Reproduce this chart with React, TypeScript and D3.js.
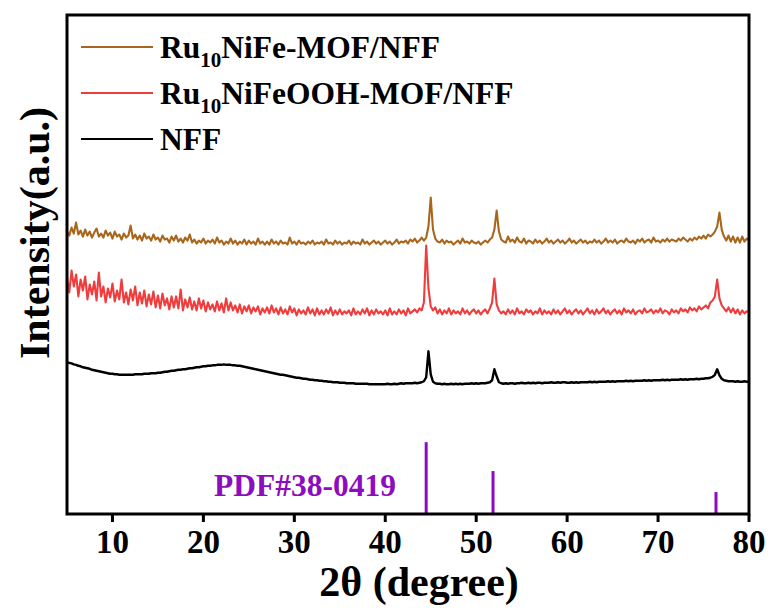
import React from "react";
import * as d3 from "d3";

// 2θ sampling grid (degrees), 0.25° step from 5 to 80
const twoTheta: number[] = d3.range(0, 301).map((i) => 5 + i * 0.25);

// Ru10NiFe-MOF/NFF (a.u.)
const ruNiFeMOF: number[] = [
  283, 279, 287, 281,
  292, 280, 284, 278,
  285, 279, 283, 277,
  282, 286, 278, 281,
  277, 284, 279, 282,
  276, 283, 278, 280,
  275, 281, 277, 279,
  289, 276, 280, 275,
  279, 274, 281, 276,
  278, 274, 280, 275,
  277, 273, 279, 275,
  276, 272, 278, 274,
  279, 273, 276, 272,
  277, 274, 280, 272,
  275, 271, 274, 272,
  276, 271, 274, 272,
  275, 271, 277, 272,
  274, 270, 273, 271,
  276, 271, 274, 270,
  273, 271, 275, 270,
  274, 271, 273, 270,
  276, 271, 273, 270,
  273, 270, 275, 271,
  273, 270, 274, 271,
  272, 270, 277, 271,
  273, 270, 274, 271,
  272, 270, 273, 271,
  274, 270, 272, 271,
  273, 270, 275, 271,
  272, 270, 274, 271,
  273, 270, 272, 271,
  274, 270, 273, 271,
  272, 270, 275, 271,
  273, 270, 272, 274,
  271, 273, 270, 272,
  274, 271, 273, 270,
  272, 275, 271, 273,
  272, 274, 271, 275,
  273, 276, 272, 274,
  277, 274, 277, 288,
  317, 285, 276, 273,
  272, 275, 271, 274,
  272, 273, 270, 272,
  274, 271, 276, 272,
  273, 271, 274, 272,
  271, 273, 270, 272,
  274, 272, 275, 277,
  285, 304, 283, 275,
  273, 272, 278, 273,
  275, 272, 277, 273,
  272, 276, 271, 274,
  273, 271, 275, 272,
  274, 271, 273, 276,
  272, 274, 271, 273,
  275, 272, 274, 271,
  273, 276, 272, 274,
  271, 273, 275, 272,
  274, 271, 273, 272,
  275, 272, 274, 271,
  273, 276, 272, 274,
  272, 275, 271, 273,
  274, 272, 276, 273,
  272, 274, 271, 275,
  273, 276, 272, 274,
  275, 272, 277, 273,
  274, 272, 275, 273,
  276, 273, 275, 274,
  273, 276, 274, 277,
  275, 273, 276, 274,
  277, 275, 278, 276,
  279, 276, 280, 278,
  280, 283, 288, 302,
  285, 278, 274, 279,
  273, 278, 272, 277,
  272, 278, 273, 276,
  274,
];

// Ru10NiFeOOH-MOF/NFF (a.u.)
const ruNiFeOOH: number[] = [
  236, 222, 244, 228,
  240, 218, 235, 224,
  238, 215, 230, 220,
  233, 214, 242, 218,
  228, 212, 226, 217,
  231, 213, 224, 215,
  235, 212, 222, 210,
  225, 214, 228, 209,
  222, 211, 224, 208,
  220, 210, 223, 207,
  219, 206, 221, 209,
  216, 205, 218, 207,
  218, 206, 225, 204,
  215, 207, 217, 205,
  213, 204, 216, 206,
  214, 203, 212, 205,
  210, 203, 213, 204,
  211, 202, 216, 204,
  212, 204, 209, 202,
  210, 201, 208, 203,
  209, 201, 207, 203,
  208, 200, 206, 202,
  207, 201, 209, 202,
  206, 200, 207, 201,
  205, 200, 208, 202,
  206, 199, 205, 201,
  204, 200, 207, 201,
  205, 199, 206, 200,
  204, 200, 205, 201,
  207, 199, 204, 200,
  205, 200, 203, 201,
  204, 199, 206, 200,
  203, 200, 205, 201,
  206, 199, 204, 200,
  205, 201, 203, 200,
  204, 199, 206, 200,
  203, 200, 205, 201,
  204, 199, 206, 201,
  203, 205, 202, 206,
  204, 212, 269, 226,
  208, 204, 207, 201,
  205, 200, 204, 201,
  206, 200, 204, 201,
  203, 200, 206, 201,
  204, 200, 203, 205,
  201, 204, 200, 203,
  205, 201, 206, 212,
  236, 210, 204, 201,
  203, 200, 205, 201,
  204, 200, 206, 201,
  203, 200, 205, 202,
  204, 200, 203, 201,
  206, 200, 204, 201,
  203, 200, 205, 201,
  204, 200, 203, 206,
  201, 204, 200, 203,
  205, 201, 204, 200,
  203, 206, 201, 204,
  200, 205, 201, 203,
  206, 201, 204, 200,
  203, 205, 201, 204,
  200, 206, 202, 204,
  201, 205, 200, 203,
  204, 201, 206, 202,
  203, 205, 201, 204,
  202, 206, 201, 204,
  203, 200, 205, 202,
  204, 201, 206, 203,
  205, 202, 207, 204,
  206, 203, 208, 205,
  207, 209, 206, 212,
  214, 218, 235, 216,
  209, 206, 203, 207,
  202, 206, 201, 205,
  200, 204, 201, 203,
  202,
];

// NFF (a.u.)
const nff: number[] = [
  152, 151.5, 151, 150,
  149.5, 148.5, 148, 147,
  146.5, 146, 145.5, 144.5,
  144, 143.5, 143, 142.5,
  142, 141.5, 141, 140.5,
  140.5, 140, 140, 139.5,
  139.5, 139.5, 139.5, 139.5,
  139.5, 139.5, 140, 140,
  140, 140, 140.5, 140.5,
  140.5, 141, 141, 141,
  141.5, 141.5, 142, 142.5,
  142.5, 143, 143.5, 143.5,
  144, 144.5, 144.5, 145,
  145, 145.5, 146, 146,
  146.5, 147, 147, 147.5,
  148, 148, 148.5, 148.5,
  149, 149, 149.5, 149.5,
  149.5, 150, 149.5, 149.5,
  149.5, 149, 149, 148.5,
  148.5, 148, 147.5, 147,
  146.5, 146, 145.5, 145,
  144.5, 144, 143.5, 143,
  142.5, 142, 141.5, 141,
  140.5, 140, 139.5, 139.5,
  139, 138.5, 138, 137.5,
  137, 136.5, 136.5, 136,
  135.5, 135.5, 135, 134.5,
  134.5, 134, 134, 133.5,
  133.5, 133, 133, 132.5,
  132.5, 132, 132, 132,
  131.5, 131.5, 131.5, 131,
  131, 131, 131, 130.5,
  130.5, 130.5, 130.5, 130.5,
  130.5, 130, 130, 130,
  130, 130, 130, 130,
  130, 130.5, 130, 130,
  130.5, 130, 130.5, 131,
  130.5, 131, 131, 131,
  131, 131.5, 131, 131.5,
  132, 133, 137, 163,
  140, 132.5, 131, 130.5,
  130.5, 130, 130.5, 130,
  130, 130.5, 130, 130.5,
  130, 130.5, 130, 130.5,
  130.5, 130.5, 131, 130.5,
  131, 130.5, 131, 131,
  131, 131.5, 132, 134,
  145, 138, 132, 131,
  130.5, 131, 130.5, 131,
  131, 130.5, 131, 131,
  131.5, 131, 131, 131.5,
  131, 131.5, 131, 131.5,
  131.5, 131, 131.5, 131.5,
  131.5, 132, 131.5, 131.5,
  132, 131.5, 132, 132,
  131.5, 131.5, 132, 131.5,
  132, 131.5, 132, 132,
  132, 132, 132.5, 132,
  132.5, 132, 132.5, 132.5,
  132.5, 132.5, 133, 132.5,
  133, 132.5, 133, 133,
  133, 133, 133.5, 133,
  133.5, 133, 133.5, 133.5,
  133.5, 133.5, 134, 133.5,
  134, 133.5, 134, 134,
  134, 134, 134.5, 134,
  134.5, 134, 134.5, 134.5,
  134.5, 134.5, 135, 134.5,
  135, 134.5, 135, 135,
  135, 135.5, 135, 135.5,
  135.5, 136, 136, 136.5,
  137.5, 139.5, 145, 139,
  135.5, 134, 133.5, 133,
  133, 133, 132.5, 133,
  132.5, 132.5, 133, 132.5,
  132.5,
];

// Reference pattern PDF#38-0419
const refPositions: number[] = [44.5, 51.85, 76.37];
const refIntensities: number[] = [72, 43, 22];

const xTicks: number[] = [10, 20, 30, 40, 50, 60, 70, 80];

const seriesNames: string[] = ["Ru10NiFe-MOF/NFF", "Ru10NiFeOOH-MOF/NFF", "NFF"];
const seriesColors: string[] = ["#A8661C", "#F03C3C", "#000000"];

const W = 774;
const H = 610;
const L = 67, R = 749, T = 15, B = 514;
const FONT = "'Liberation Serif', 'Times New Roman', serif";

export default function App() {
  const x = d3.scaleLinear().domain([5, 80]).range([L, R]);
  const y = d3.scaleLinear().domain([0, 500]).range([B, T]);

  const mk = (vals: number[]) =>
    d3
      .line<number>()
      .x((_, i) => x(twoTheta[i]))
      .y((d) => y(d))(vals.slice(0, twoTheta.length)) || "";

  const series = [ruNiFeMOF, ruNiFeOOH, nff];
  const widths = [2.1, 2.1, 2.4];

  const legendY = [47, 93, 139];

  return (
    <svg
      width={W}
      height={H}
      style={{ position: "absolute", left: 0, top: 0, background: "#fff" }}
      fontFamily={FONT}
      fontWeight="bold"
    >
      <rect x={0} y={0} width={W} height={H} fill="#fff" />
      {series.map((s, i) => (
        <path
          key={i}
          d={mk(s)}
          fill="none"
          stroke={seriesColors[i]}
          strokeWidth={widths[i]}
          strokeLinejoin="round"
        />
      ))}
      {refPositions.map((p, i) => (
        <line
          key={i}
          x1={x(p)}
          x2={x(p)}
          y1={y(0)}
          y2={y(refIntensities[i])}
          stroke="#8E0CC0"
          strokeWidth={3}
        />
      ))}
      <text x={214} y={496} fontSize={31.5} fill="#8E0CC0">
        PDF#38-0419
      </text>

      {/* frame */}
      <rect x={L} y={T} width={R - L} height={B - T} fill="none" stroke="#000" strokeWidth={3} />
      {xTicks.map((t) => (
        <g key={t}>
          <line x1={x(t)} x2={x(t)} y1={B} y2={B + 8} stroke="#000" strokeWidth={3} />
          <text x={x(t)} y={553} fontSize={33} textAnchor="middle" fill="#000">
            {t}
          </text>
        </g>
      ))}
      <text x={(L + R) / 2 + 11} y={596} fontSize={42} textAnchor="middle" fill="#000">
        2θ (degree)
      </text>
      <text
        transform={`translate(49, 233) rotate(-90)`}
        fontSize={42}
        textAnchor="middle"
        fill="#000"
      >
        Intensity(a.u.)
      </text>

      {/* legend */}
      {seriesNames.map((n, i) => {
        const ly = legendY[i];
        const m = n.match(/^Ru10(.*)$/);
        return (
          <g key={n}>
            <line x1={81} x2={153} y1={ly} y2={ly} stroke={seriesColors[i]} strokeWidth={2} />
            <text x={160} y={ly + 10.5} fontSize={31.5} fill="#000">
              {m ? (
                <>
                  Ru
                  <tspan fontSize={21} dy={9}>
                    10
                  </tspan>
                  <tspan dy={-9}>{m[1]}</tspan>
                </>
              ) : (
                n
              )}
            </text>
          </g>
        );
      })}
    </svg>
  );
}
